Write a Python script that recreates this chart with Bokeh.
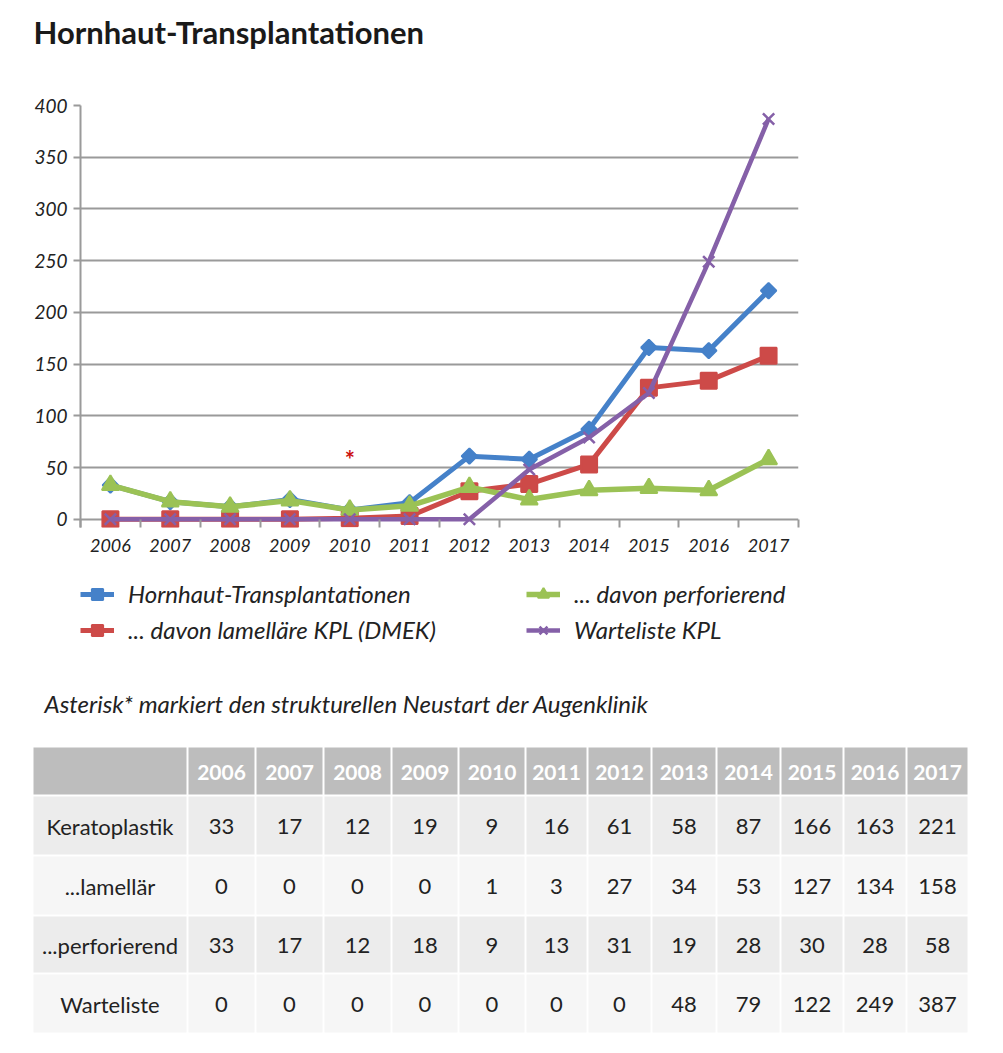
import math
from bokeh.plotting import figure
from bokeh.models import (Range1d, FixedTicker, SingleIntervalTicker, Legend, LegendItem,
                          ColumnDataSource)
from bokeh.core.properties import value
from bokeh.embed import file_html
from bokeh.resources import INLINE

# ---------------- data ----------------
years = [2006, 2007, 2008, 2009, 2010, 2011, 2012, 2013, 2014, 2015, 2016, 2017]
keratoplastik = [33, 17, 12, 19, 9, 16, 61, 58, 87, 166, 163, 221]
lamellaer = [0, 0, 0, 0, 1, 3, 27, 34, 53, 127, 134, 158]
perforierend = [33, 17, 12, 18, 9, 13, 31, 19, 28, 30, 28, 58]
warteliste = [0, 0, 0, 0, 0, 0, 0, 48, 79, 122, 249, 387]

series_names = ["Hornhaut-Transplantationen", "... davon lamelläre KPL (DMEK)",
                "... davon perforierend", "Warteliste KPL"]
row_labels = ["Keratoplastik", "...lamellär", "...perforierend", "Warteliste"]
title_text = "Hornhaut-Transplantationen"
caption_text = "Asterisk* markiert den strukturellen Neustart der Augenklinik"
restart_year = 2010
restart_mark = "*"

# ---------------- styles ----------------
FONT = "Lato"
TXT = "#222222"
GRID = "#9a9a9a"
colors = ["#4581c9", "#cd4a48", "#9bc255", "#8560a8"]
markers = ["square", "square", "triangle", "x"]
angles = [math.pi / 4, 0, 0, 0]
msizes = [11, 16, 17, 16]
lwidths = [5, 5, 5.5, 4.5]

W = 987


def style(fig, m, a, ms, c, lw, src):
    lr = fig.line("x", "y", source=src, line_color=c, line_width=lw)
    if m == "x":
        sr = fig.scatter("x", "y", source=src, marker=m, size=ms, line_color=c, line_width=2.5)
    else:
        sr = fig.scatter("x", "y", source=src, marker=m, size=ms, angle=a,
                         fill_color=c, line_color=c, line_width=2)
    return lr, sr


# ---------------- title ----------------
pt = figure(width=W, height=60, x_range=Range1d(0, W), y_range=Range1d(60, 0),
            output_backend="svg", toolbar_location=None, min_border=0)
pt.axis.visible = False
pt.grid.visible = False
pt.outline_line_color = None
pt.text(x=[33], y=[31], text=[title_text], text_font=value(FONT), text_font_style="bold",
        text_font_size="31px", text_color="#1a1a1a", text_baseline="alphabetic", text_align="left")

# ---------------- chart ----------------
# the y range starts a little below 0 so that markers on the 0 line are not cut
p = figure(width=W, height=510, x_range=Range1d(years[0] - 0.5, years[-1] + 0.5),
           y_range=Range1d(-8, 400), output_backend="svg", toolbar_location=None,
           min_border_left=80, min_border_right=189, min_border_top=45, min_border_bottom=43)
p.outline_line_color = None
p.xgrid.visible = False
p.ygrid.grid_line_color = GRID
p.ygrid.grid_line_width = 2

p.yaxis.ticker = SingleIntervalTicker(interval=50, num_minor_ticks=0)
p.xaxis.ticker = FixedTicker(ticks=years, minor_ticks=[y - 0.5 for y in years] + [years[-1] + 0.5])
for ax in (p.xaxis[0], p.yaxis[0]):
    ax.axis_line_color = GRID
    ax.axis_line_width = 2
    ax.major_label_text_font = FONT
    ax.major_label_text_font_style = "italic"
    ax.major_label_text_font_size = "18px"
    ax.major_label_text_color = TXT
    ax.major_tick_line_color = GRID
    ax.major_tick_line_width = 2
    ax.minor_tick_line_color = GRID
    ax.minor_tick_line_width = 2
# the horizontal line at 0 comes from the grid (drawn beneath the series)
p.xaxis.axis_line_color = None
p.yaxis.major_label_text_font_size = "19px"
p.xaxis.major_tick_out = 0
p.xaxis.major_tick_in = 0
p.xaxis.minor_tick_out = 0
p.xaxis.minor_tick_in = 8
p.xaxis.major_label_standoff = 11
p.yaxis.major_tick_out = 7
p.yaxis.major_tick_in = 0
p.yaxis.minor_tick_out = 0
p.yaxis.major_label_standoff = 6

all_series = [keratoplastik, lamellaer, perforierend, warteliste]
for vals, c, m, a, ms, lw in zip(all_series, colors, markers, angles, msizes, lwidths):
    style(p, m, a, ms, c, lw, ColumnDataSource(dict(x=years, y=vals)))

p.text(x=[restart_year], y=[58], text=[restart_mark], text_font=value(FONT),
       text_font_style="bold", text_font_size="24px", text_color="#cc1111",
       text_align="center", text_baseline="middle")

# ---------------- legend + caption + table ----------------
TH = 470
pb = figure(width=W, height=TH, x_range=Range1d(0, W), y_range=Range1d(TH, 0),
            output_backend="svg", toolbar_location=None, min_border=0)
pb.axis.visible = False
pb.grid.visible = False
pb.outline_line_color = None

# legend keys share the chart's series styles (renderers with no visible point)
items = []
for name, c, m, a, ms, lw in zip(series_names, colors, markers, angles, msizes, lwidths):
    lr, sr = style(pb, m, a, ms, c, lw, ColumnDataSource(dict(x=[float("nan")], y=[float("nan")])))
    items.append(LegendItem(label=name, renderers=[lr, sr]))
legend = Legend(items=items, location=(80, 396), orientation="vertical", nrows=2,
                glyph_width=34, glyph_height=28, label_height=28, label_standoff=14,
                label_width=391, spacing=7, padding=0, margin=0, border_line_color=None,
                background_fill_alpha=0, label_text_font=FONT, label_text_font_style="italic",
                label_text_font_size="24px", label_text_color=TXT)
pb.add_layout(legend, "center")

pb.text(x=[44], y=[133], text=[caption_text], text_font=value(FONT), text_font_style="italic",
        text_font_size="24px", text_color=TXT, text_baseline="middle", text_align="left")

# table layout (px): column and row boundaries
col_edges = [32, 187, 255, 323, 391, 458, 525, 587, 651, 716, 780, 843, 906, 968]
row_edges = [176, 225, 285, 345, 403, 463]
HEADER = "#bdbdbd"
ROWC = ["#ececec", "#f6f6f6", "#ececec", "#f6f6f6"]

lefts, rights, tops, bottoms, fills = [], [], [], [], []
for r in range(5):
    for c in range(len(col_edges) - 1):
        lefts.append(col_edges[c] + 1)
        rights.append(col_edges[c + 1] - 1)
        tops.append(row_edges[r] + 1)
        bottoms.append(row_edges[r + 1] - 1)
        fills.append(HEADER if r == 0 else ROWC[r - 1])
pb.quad(left=lefts, right=rights, top=tops, bottom=bottoms, fill_color=fills, line_color=None)

cx = [(col_edges[c] + col_edges[c + 1]) / 2 for c in range(len(col_edges) - 1)]
cy = [(row_edges[r] + row_edges[r + 1]) / 2 + 1 for r in range(5)]

pb.text(x=cx[1:], y=[cy[0]] * len(years), text=[str(y) for y in years], text_font=value(FONT),
        text_font_style="bold", text_font_size="21px", text_color="#ffffff",
        text_align="center", text_baseline="middle")

tx, ty, tt = [], [], []
for r, (lab, vals) in enumerate(zip(row_labels, all_series)):
    tx.append(cx[0]); ty.append(cy[r + 1]); tt.append(lab)
    for c, v in enumerate(vals):
        tx.append(cx[c + 1]); ty.append(cy[r + 1]); tt.append(str(v))
pb.text(x=tx, y=ty, text=tt, text_font=value(FONT), text_font_size="22px", text_color=TXT,
        text_align="center", text_baseline="middle")

open("out.html", "w").write(file_html([pt, p, pb], INLINE))
